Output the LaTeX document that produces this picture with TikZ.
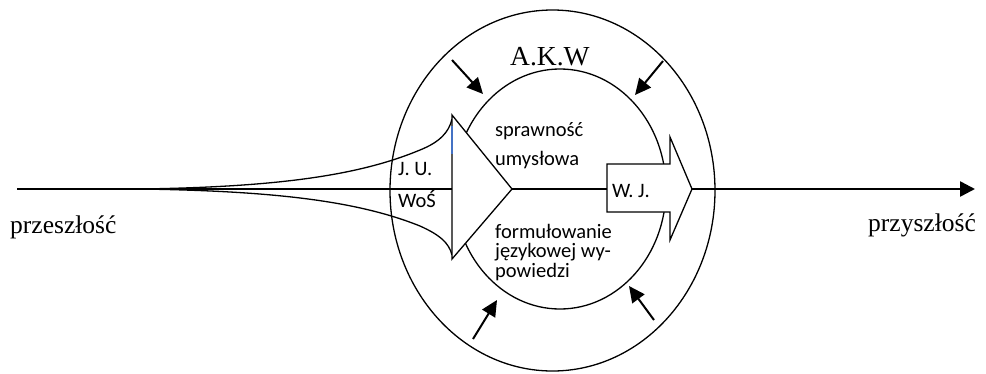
\documentclass[tikz,border=0pt]{standalone}
\usepackage{fontspec}
\setmainfont{Liberation Serif}
\newfontfamily\calfont{Carlito}
\usetikzlibrary{arrows.meta}
\definecolor{jublue}{RGB}{68,114,196}
\begin{document}
\begin{tikzpicture}[x=1pt,y=-1pt,ln/.style={line width=1.3pt},
		ax/.style={line width=2.5pt},
		sa/.style={line width=2pt,-{Triangle[length=16pt,width=15pt]}},
		wh/.style={ln,fill=white},
		lb/.style={font=\calfont\fontsize{20.5}{29}\selectfont,inner sep=0pt,anchor=base west},
		tm/.style={font=\fontsize{25.5}{26}\selectfont,inner sep=0pt,anchor=base west}]
	\useasboundingbox (0,0) rectangle (986,373);
	\coordinate (past) at (17,189);
	\coordinate (fut) at (975,189);
	\coordinate (fan) at (140,189);
	\draw[ln] (552.5,190.5) ellipse [x radius=162.5pt,y radius=180.5pt];
	\draw[ln] (560,189) ellipse [x radius=106pt,y radius=120pt];
	% funnel
	\draw[ln] (fan) .. controls (280,187) and (360,175) .. (420,150)
		.. controls (440,142) and (449,132) .. (452,119);
	\draw[ln] (fan) .. controls (280,191) and (360,202) .. (420,226)
		.. controls (440,235) and (449,243) .. (452,255);
	% arrows
	\filldraw[wh] (452,115) coordinate (ta) -- (512,189) coordinate (tip) -- (452,259) coordinate (tb) -- cycle;
	\coordinate (base) at (452,189);
	\draw[line width=1.5pt,jublue] (452,126) -- (452,154);
	\filldraw[wh] (607,164) -- (670,164) -- (670,137) -- (692,189) coordinate (wtip) -- (670,240) -- (670,212) -- (607,212) -- cycle;
	\coordinate (wtail) at (607,189);
	\draw[ax] (past) -- (base);
	\draw[ax] (tip) -- (wtail);
	\draw[ax,-{Triangle[length=15pt,width=15pt]}] (wtip) -- (fut);
	% labels
	\node[tm] (pz) at (10,233) {przeszłość};
	\node[tm] (pf) at (868,231) {przyszłość};
	\node[tm,font=\fontsize{27.5}{28}\selectfont] (akw) at (510,65) {A.K.W};
	\node[lb] (ju) at (398,175) {J. U.};
	\node[lb] (wos) at (398,207) {WoŚ};
	\node[lb] (wj) at (612,197) {W. J.};
	\node[lb,align=left] (sp) at (495,165) {sprawność\\umysłowa};
	\node[lb,font=\calfont\fontsize{20.5}{19.5}\selectfont,align=left] (fj) at (495,277) {formułowanie\\językowej wy-\\powiedzi};
	% small arrows
	\coordinate (a1) at (452,60); \coordinate (b1) at (483,94);
	\coordinate (a2) at (663,61); \coordinate (b2) at (635,95);
	\coordinate (a3) at (473,339); \coordinate (b3) at (497,300);
	\coordinate (a4) at (654,320); \coordinate (b4) at (629,286);
	\foreach \i in {1,...,4}
	\draw[sa] (a\i) -- (b\i);
\end{tikzpicture}
\end{document}
